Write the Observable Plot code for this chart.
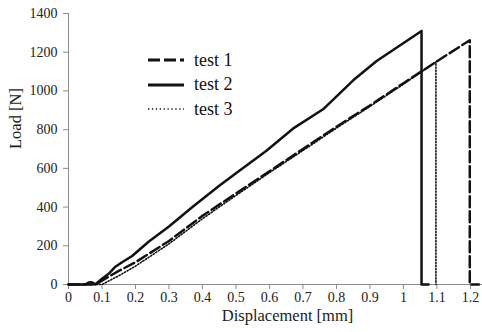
<!DOCTYPE html>
<html>
<head>
<meta charset="utf-8">
<script src="https://cdn.jsdelivr.net/npm/d3@7"></script>
<script src="https://cdn.jsdelivr.net/npm/@observablehq/plot@0.6"></script>
<style>
  html, body { margin: 0; padding: 0; background: #fff; }
  #wrap { position: relative; width: 482px; height: 332px; font-family: "Liberation Serif"; }
  #wrap svg, #wrap svg text { font-family: "Liberation Serif" !important; }
  #legend { position: absolute; left: 148px; top: 48px; color: #111; font-size: 18px; font-family: "Liberation Serif"; }
  .row { display: flex; align-items: center; height: 24.5px; }
  .row svg { width: 36px; height: 8px; margin-right: 10px; }
</style>
</head>
<body>
<div id="wrap"><div id="legend"></div></div>
<script>
// Tick values
const xTicks = [0, 0.1, 0.2, 0.3, 0.4, 0.5, 0.6, 0.7, 0.8, 0.9, 1, 1.1, 1.2];
const yTicks = [0, 200, 400, 600, 800, 1000, 1200, 1400];

// Series names
const seriesNames = ["test 1", "test 2", "test 3"];

// test 1 (dashed)
const test1X = [0, 0.07, 0.09, 0.12, 0.15, 0.2, 0.3, 0.4, 0.5, 0.6, 0.7, 0.8, 0.9, 1.0, 1.1, 1.198, 1.198, 1.225];
const test1Y = [0, 0, 10, 40, 70, 115, 225, 355, 470, 585, 700, 815, 925, 1040, 1153, 1262, 0, 0];

// test 2 (solid)
const test2X = [0, 0.05, 0.06, 0.07, 0.08, 0.1, 0.12, 0.14, 0.16, 0.19, 0.24, 0.3, 0.37, 0.45, 0.5, 0.59, 0.67, 0.76, 0.85, 0.92, 1.054, 1.054, 1.075];
const test2Y = [0, 0, 10, 12, 0, 30, 55, 92, 115, 147, 222, 300, 400, 510, 575, 690, 805, 905, 1055, 1155, 1310, 0, 0];

// test 3 (dotted)
const test3X = [0, 0.1, 0.15, 0.2, 0.3, 0.4, 0.5, 0.6, 0.7, 0.8, 0.9, 1.0, 1.097, 1.097];
const test3Y = [0, 0, 45, 95, 210, 340, 460, 578, 692, 808, 920, 1035, 1150, 0];

const toRows = (xs, ys, name) => xs.map((x, i) => ({x, y: ys[i], series: name}));
const d1 = toRows(test1X, test1Y, seriesNames[0]);
const d2 = toRows(test2X, test2Y, seriesNames[1]);
const d3s = toRows(test3X, test3Y, seriesNames[2]);

const styles = [
  {strokeWidth: 2.5, strokeDasharray: "11,4"},
  {strokeWidth: 2.5, strokeDasharray: null},
  {strokeWidth: 1.6, strokeDasharray: "1.3,1.8"}
];

const fmtX = d => String(+d.toFixed(1));
const fmtY = d => String(d);

const chart = Plot.plot({
  width: 482,
  height: 332,
  marginLeft: 68,
  marginRight: 0,
  marginTop: 13,
  marginBottom: 48,
  style: {fontFamily: "Liberation Serif", background: "transparent", color: "#222"},
  x: {domain: [0, 1.236]},
  y: {domain: [0, 1400]},
  marks: [
    Plot.ruleX([0], {y1: 0, y2: 1400, stroke: "#8c8c8c"}),
    Plot.ruleY([0], {stroke: "#8c8c8c"}),
    Plot.axisX({ticks: xTicks, tickFormat: fmtX, tickSize: 5, tickPadding: 3, stroke: "#8c8c8c", fill: "#222", fontSize: 14, label: null}),
    Plot.axisY({ticks: yTicks, tickFormat: fmtY, tickSize: 5, tickPadding: 6, stroke: "#8c8c8c", fill: "#222", fontSize: 14, label: null}),
    Plot.line(d3s, {x: "x", y: "y", stroke: "#111", strokeWidth: styles[2].strokeWidth, strokeDasharray: styles[2].strokeDasharray}),
    Plot.line(d1, {x: "x", y: "y", stroke: "#111", strokeWidth: styles[0].strokeWidth, strokeDasharray: styles[0].strokeDasharray}),
    Plot.line(d2, {x: "x", y: "y", stroke: "#111", strokeWidth: styles[1].strokeWidth}),
    Plot.text(["Displacement [mm]"], {frameAnchor: "bottom", dx: 12, dy: 36, fontSize: 16.5, fill: "#222"}),
    Plot.text(["Load [N]"], {frameAnchor: "left", dx: -53, rotate: -90, fontSize: 16.5, fill: "#222"})
  ]
});

const wrap = document.getElementById("wrap");
wrap.insertBefore(chart, wrap.firstChild);

// Legend
const legend = document.getElementById("legend");
seriesNames.forEach((name, i) => {
  const row = document.createElement("div");
  row.className = "row";
  const s = styles[i];
  row.innerHTML = `<svg viewBox="0 0 36 8"><line x1="0" x2="36" y1="4" y2="4" stroke="#111" stroke-width="${i === 2 ? 1.6 : 3}" ${s.strokeDasharray ? `stroke-dasharray="${i === 0 ? '12,4' : '1.3,2.6'}"` : ""}/></svg><span>${name}</span>`;
  legend.appendChild(row);
});
</script>
</body>
</html>
